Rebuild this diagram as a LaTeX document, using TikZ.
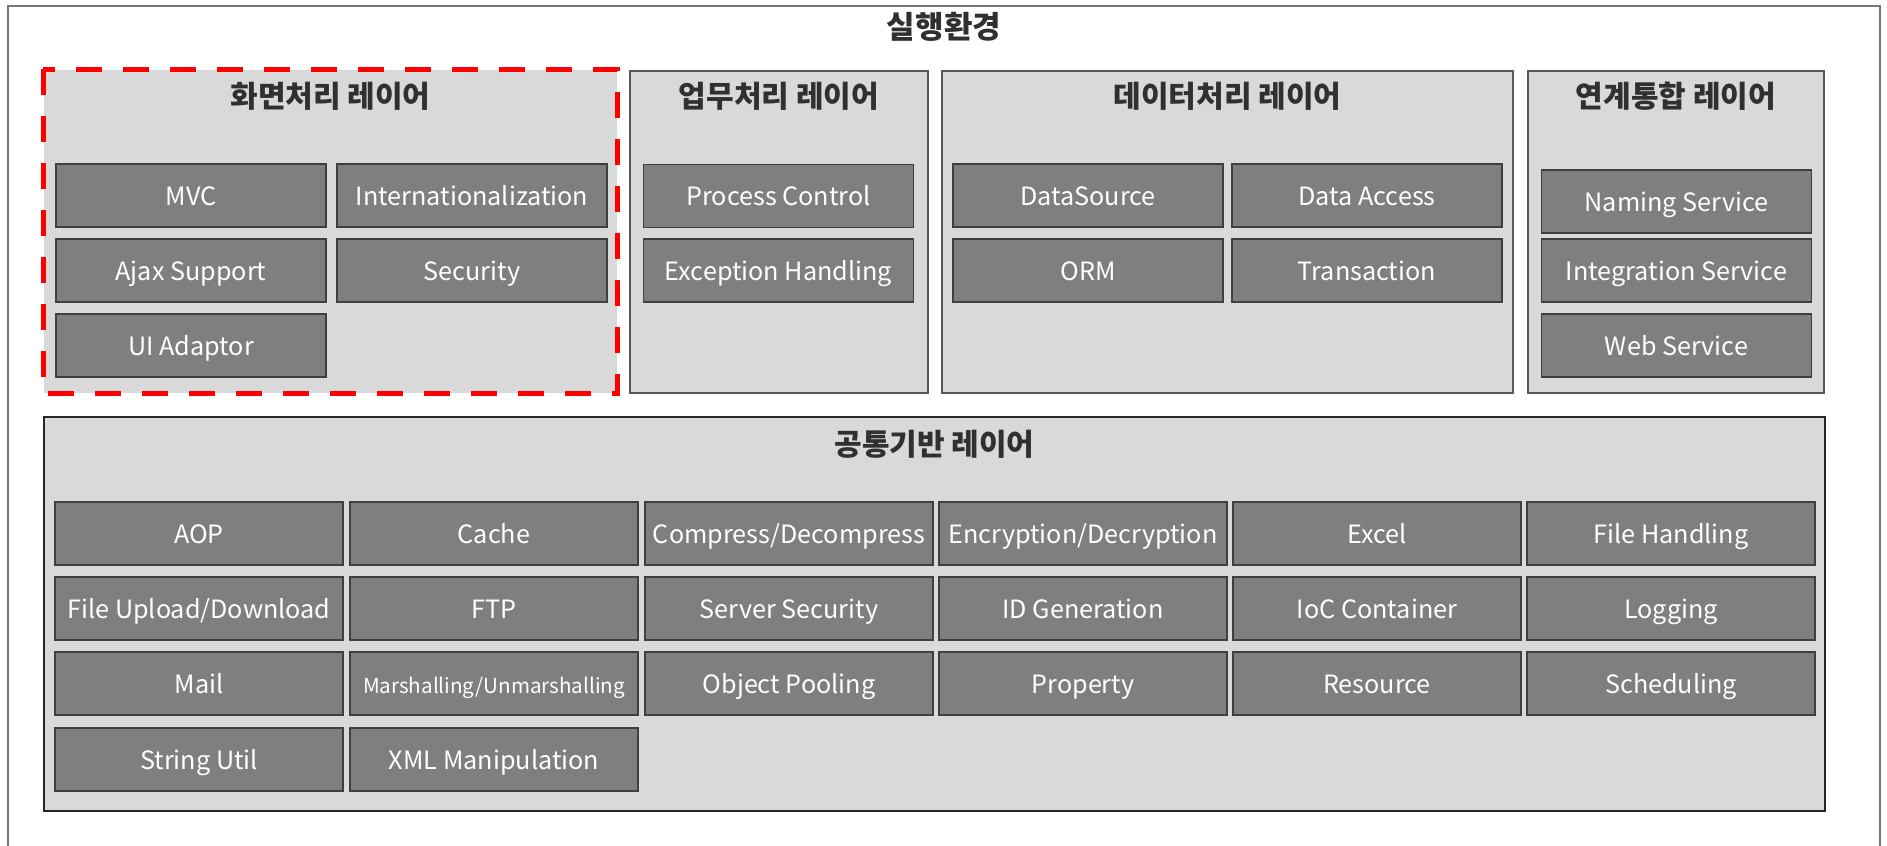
\documentclass[tikz,border=0pt]{standalone}
\usepackage{fontspec}
\setmainfont{Noto Sans CJK KR}
\definecolor{layerfill}{HTML}{D9D9D9}
\definecolor{layerline}{HTML}{595959}
\definecolor{baseline}{HTML}{262626}
\definecolor{boxfill}{HTML}{7F7F7F}
\definecolor{boxline}{HTML}{3F3F3F}
\definecolor{framecol}{HTML}{767676}
\definecolor{titlecol}{HTML}{303030}
\definecolor{dashred}{HTML}{FF0000}
\tikzset{
  layerbox/.style={draw=layerline, fill=layerfill, line width=0.7pt, inner sep=0pt},
  itembox/.style={draw=boxline, fill=boxfill, line width=0.8pt, inner sep=0pt,
    text=white, font=\fontsize{12.6}{15}\selectfont,
    text height=11pt, text depth=1.4pt,
    minimum width=135pt, minimum height=31.5pt},
  basebox/.style={itembox, minimum width=144pt},
  layertitle/.style={text=titlecol, font=\fontsize{15}{18}\selectfont\bfseries, inner sep=0pt},
}
\begin{document}
\begin{tikzpicture}[x=0.5pt,y=-0.5pt]
\useasboundingbox (0,0) rectangle (1887,846);
% outer frame (open at the bottom)
\draw[framecol, line width=1pt] (8,846) -- (8,6) -- (1880,6) -- (1880,846);
\node[layertitle, font=\fontsize{15.5}{18}\selectfont\bfseries] (env) at (944,27) {실행환경};

% layers
\node[layerbox, draw=none, minimum width=286.5pt, minimum height=161.5pt] (ui) at (330.5,231.5) {};
\draw[dashred, line width=2.5pt, dash pattern=on 13pt off 10.5pt] (ui.north west) rectangle (ui.south east);
\node[layerbox, minimum width=149pt, minimum height=161pt] (biz) at (779,232) {};
\node[layerbox, minimum width=285.5pt, minimum height=161pt] (data) at (1227.5,232) {};
\node[layerbox, minimum width=148pt, minimum height=161pt] (intg) at (1676,232) {};
\node[layerbox, draw=baseline, line width=0.9pt, minimum width=890.5pt, minimum height=197pt] (base) at (934.5,614) {};

\node[layertitle] (uit) at (330.5,96) {화면처리 레이어};
\node[layertitle] (bizt) at (779,96) {업무처리 레이어};
\node[layertitle] (datat) at (1227.5,96) {데이터처리 레이어};
\node[layertitle] (intgt) at (1676,96) {연계통합 레이어};
\node[layertitle] (baset) at (934.5,444) {공통기반 레이어};

% presentation layer
\node[itembox] (mvc) at (191,195.5) {MVC};
\node[itembox] (i18n) at (472,195.5) {Internationalization};
\node[itembox] (ajax) at (191,270.5) {Ajax Support};
\node[itembox] (sec) at (472,270.5) {Security};
\node[itembox] (uiad) at (191,345.5) {UI Adaptor};

% business layer
\node[itembox] (proc) at (778.5,196) {Process Control};
\node[itembox] (exc) at (778.5,270.5) {Exception Handling};

% data layer
\node[itembox] (ds) at (1088,195.5) {DataSource};
\node[itembox] (da) at (1367,195.5) {Data Access};
\node[itembox] (orm) at (1088,270.5) {ORM};
\node[itembox] (tx) at (1367,270.5) {Transaction};

% integration layer
\node[itembox] (nam) at (1676.5,201.5) {Naming Service};
\node[itembox] (ints) at (1676.5,270.5) {Integration Service};
\node[itembox] (web) at (1676.5,345.5) {Web Service};

% common base layer
\node[basebox] (aop) at (199,533.5) {AOP};
\node[basebox] (cache) at (494,533.5) {Cache};
\node[basebox] (comp) at (789,533.5) {Compress/Decompress};
\node[basebox] (enc) at (1083,533.5) {Encryption/Decryption};
\node[basebox] (xls) at (1377,533.5) {Excel};
\node[basebox] (fh) at (1671,533.5) {File Handling};

\node[basebox] (fud) at (199,608.5) {File Upload/Download};
\node[basebox] (ftp) at (494,608.5) {FTP};
\node[basebox] (ssec) at (789,608.5) {Server Security};
\node[basebox] (idg) at (1083,608.5) {ID Generation};
\node[basebox] (ioc) at (1377,608.5) {IoC Container};
\node[basebox] (log) at (1671,608.5) {Logging};

\node[basebox] (mail) at (199,683.5) {Mail};
\node[basebox, font=\fontsize{10.3}{13}\selectfont] (mar) at (494,683.5) {Marshalling/Unmarshalling};
\node[basebox] (pool) at (789,683.5) {Object Pooling};
\node[basebox] (prop) at (1083,683.5) {Property};
\node[basebox] (res) at (1377,683.5) {Resource};
\node[basebox] (sch) at (1671,683.5) {Scheduling};

\node[basebox] (str) at (199,759.5) {String Util};
\node[basebox] (xml) at (494,759.5) {XML Manipulation};
\end{tikzpicture}
\end{document}
